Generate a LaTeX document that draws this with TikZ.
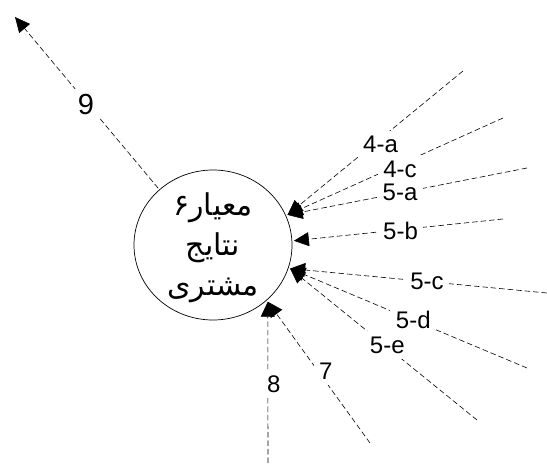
\documentclass[tikz,border=0pt]{standalone}
\usepackage{fontspec}
\setmainfont{Liberation Sans}
\newfontfamily\arabicfont[Script=Arabic]{DejaVu Sans}
\TeXXeTstate=1
\usetikzlibrary{arrows.meta,shapes.geometric}
\begin{document}
\begin{tikzpicture}[x=1pt,y=-1pt,
  conn/.style={line width=0.6pt, dash pattern=on 5.5pt off 3pt,
    -{Triangle[length=15pt,width=14pt]}},
  lab/.style={fill=white, inner sep=5.5pt, font=\fontsize{24}{24}\selectfont},
  bigLab/.style={fill=white, inner sep=5pt, font=\fontsize{29}{29}\selectfont},
  ring/.style={ellipse, draw, line width=0.7pt, minimum width=158pt,
    minimum height=150pt, outer sep=2pt}]
\useasboundingbox (0,0) rectangle (547,465);
\node[ring] (c) at (213,245) {};
\node[align=center, font=\arabicfont\fontsize{30}{40}\selectfont] (ct) at ([yshift=-3pt]c.center)
  {\beginR معیار۶\endR\\\beginR نتایج\endR\\\beginR مشتری\endR};
\coordinate (o4a) at (463,71);
\coordinate (o4c) at (503,118);
\coordinate (o5a) at (527,168);
\coordinate (o5b) at (503,219);
\coordinate (o5c) at (547,293);
\coordinate (o5d) at (527,368);
\coordinate (o5e) at (477,420);
\coordinate (o7) at (370,443);
\coordinate (o8) at (268,463);
\coordinate (o9) at (15,17);
\draw[conn] (o4a) -- node[lab,pos=0.47,yshift=-6pt]{4-a} (c.22);
\draw[conn] (o4c) -- node[lab,pos=0.478,yshift=-5pt]{4-c} (c.22);
\draw[conn] (o5a) -- node[lab,pos=0.53]{5-a} (c.22);
\draw[conn] (o5b) -- node[lab,pos=0.49,yshift=-1pt]{5-b} (c.3);
\draw[conn] (o5c) -- node[lab,pos=0.467]{5-c} (c.-17.6);
\draw[conn] (o5d) -- node[lab,pos=0.48]{5-d} (c.-17.6);
\draw[conn] (o5e) -- node[lab,pos=0.48,yshift=2pt]{5-e} (c.-17.6);
\draw[conn] (o7) -- node[lab,pos=0.51,xshift=8pt]{7} (c.-46);
\draw[conn] (o8) -- node[lab,pos=0.49,xshift=6pt]{8} (c.-46);
\draw[conn] (c.134) -- node[bigLab,pos=0.49,xshift=-2pt]{9} (o9);
\end{tikzpicture}
\end{document}
